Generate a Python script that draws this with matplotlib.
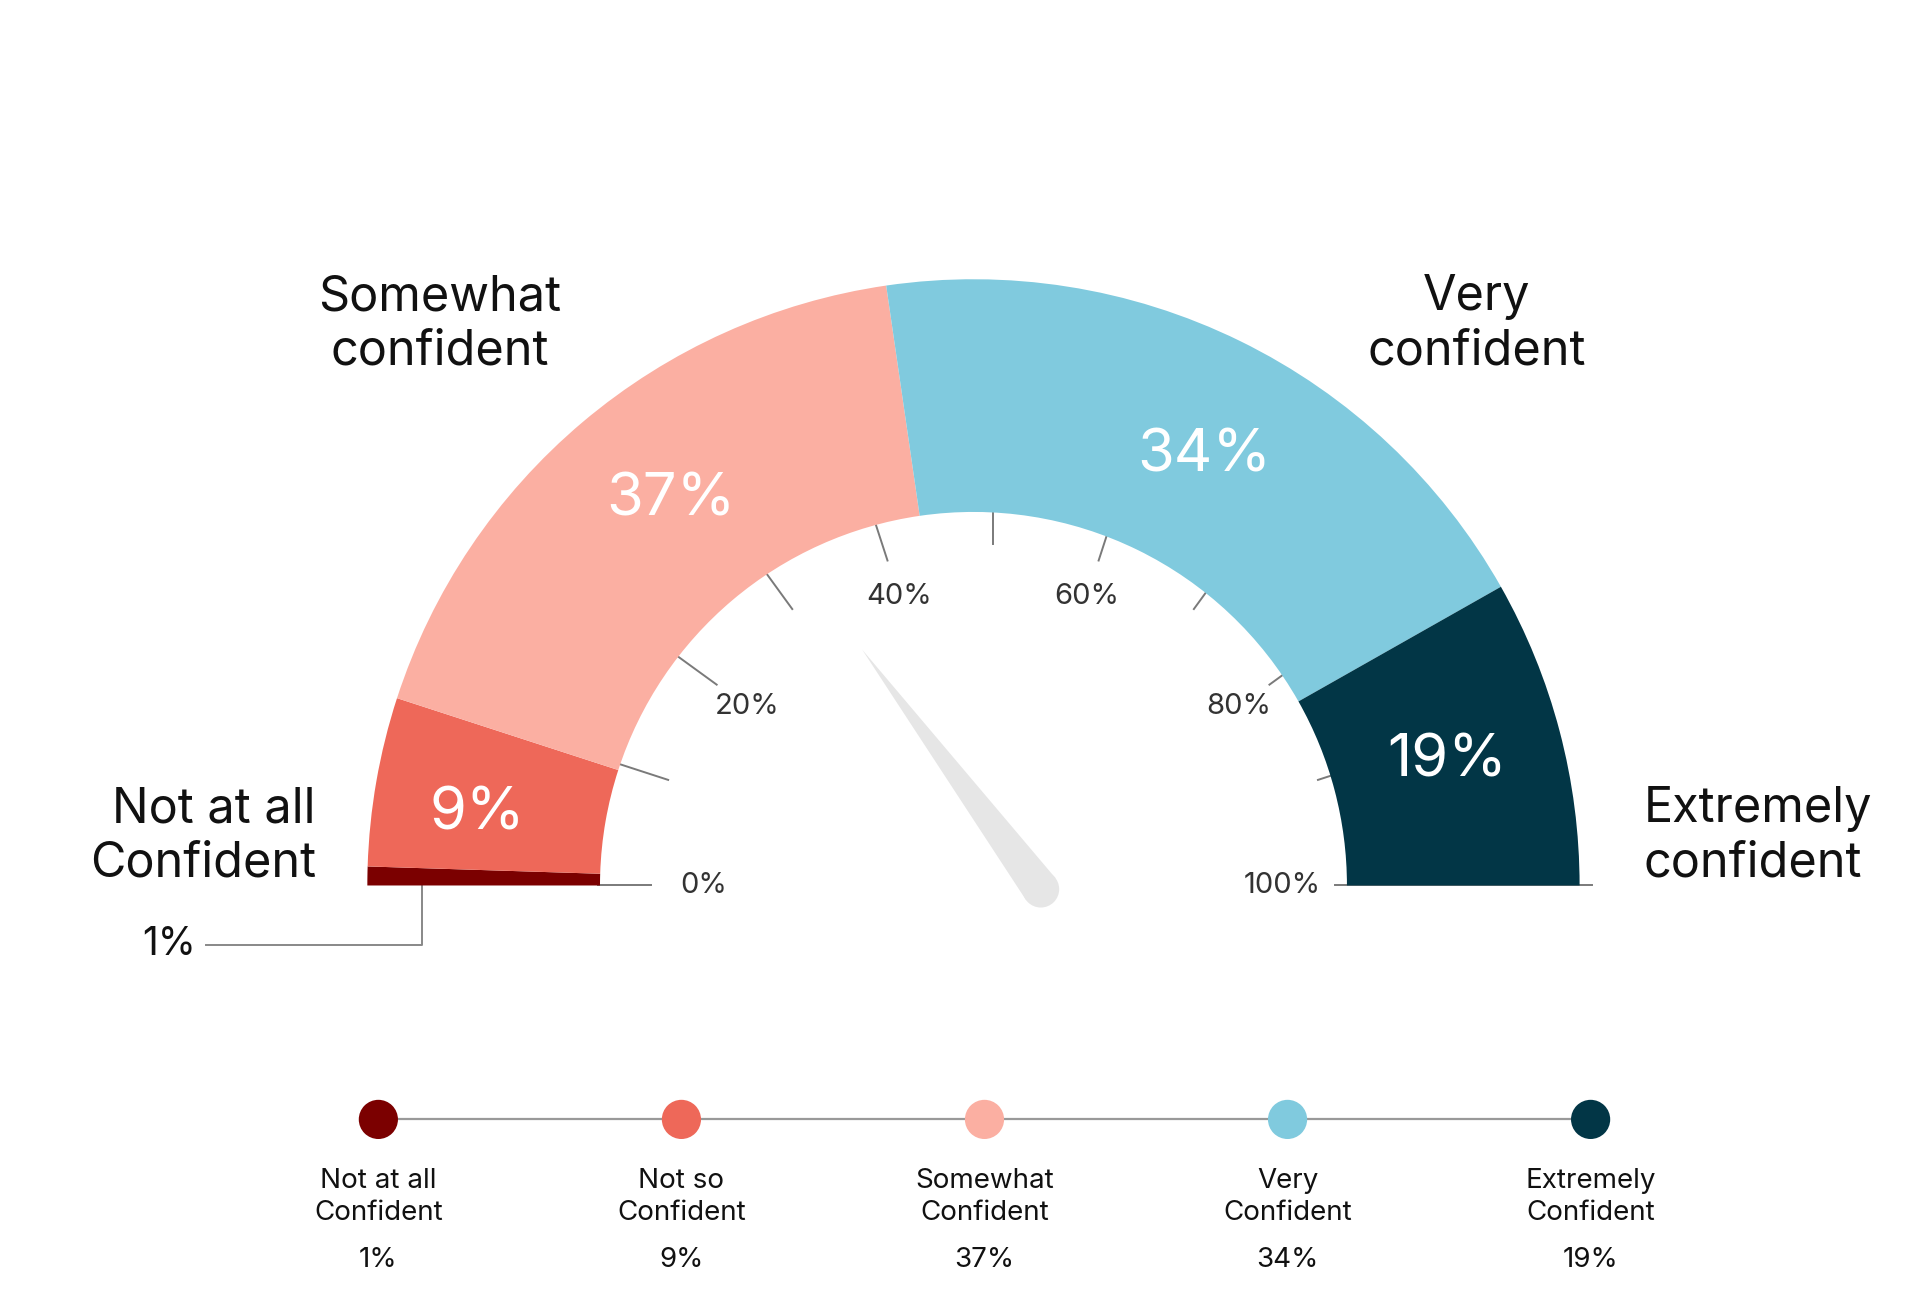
import numpy as np
import matplotlib.pyplot as plt
from matplotlib.patches import Wedge, Circle, Polygon

# data
categories = ["Not at all\nConfident", "Not so\nConfident", "Somewhat\nConfident",
              "Very\nConfident", "Extremely\nConfident"]
values = [1, 9, 37, 34, 19]
# angular share of each arc as drawn in the gauge (%)
arc_share = [1, 9, 35.4, 38.2, 16.4]
gauge_labels = ["Not at all\nConfident", "", "Somewhat\nconfident",
                "Very\nconfident", "Extremely\nconfident"]
tick_values = list(range(0, 101, 10))
tick_labels = {0: "0%", 20: "20%", 40: "40%", 60: "60%", 80: "80%", 100: "100%"}
needle_value = 29.6

colors = ["#7B0000", "#EE6859", "#FBAFA2", "#80CADE", "#023646"]
# small angular nudges (deg) and radii for the in-arc value labels
label_nudge = [0, 1.2, -2.4, -1.9, 0.5]
label_r = [400, 410, 403, 402, 401]

FONT = ["Inter", "DejaVu Sans"]
W, H = 1568, 1059


def yy(v):
    """convert top-down pixel row to axes y"""
    return H - v


def ang(pct):
    return 180.0 - 1.8 * pct


fig = plt.figure(figsize=(19.2, 12.97), dpi=100)
ax = fig.add_axes([0, 0, 1, 1])
ax.set_xlim(0, W)
ax.set_ylim(0, H)
ax.axis("off")

# gauge arcs
cx, cy = 795, yy(723)
r_out, r_in = 495, 305
start = 0.0
for i, (share, col, val) in enumerate(zip(arc_share, colors, values)):
    a1, a0 = ang(start), ang(start + share)
    ax.add_patch(Wedge((cx, cy), r_out, a0, a1, width=r_out - r_in,
                       facecolor=col, edgecolor="none", zorder=2))
    if val > 1:
        mid = np.radians((a0 + a1) / 2 + label_nudge[i])
        rr = label_r[i]
        ax.text(cx + rr * np.cos(mid), cy + rr * np.sin(mid) - 4, f"{val}%",
                color="white", fontsize=43, ha="center", va="center",
                family=FONT, zorder=3)
    start += share

# ticks and scale labels
tx, ty = 811, yy(723)
for t in tick_values:
    a = np.radians(ang(t))
    r1 = 489 if t == 100 else 323
    ax.plot([tx + 279 * np.cos(a), tx + r1 * np.cos(a)],
            [ty + 279 * np.sin(a), ty + r1 * np.sin(a)],
            color="#7a7a7a", lw=1.4, zorder=1)
    if t in tick_labels:
        rl = 236 if t in (0, 100) else 248
        ax.text(tx + rl * np.cos(a), ty + rl * np.sin(a), tick_labels[t],
                color="#333333", fontsize=21, ha="center", va="center",
                family=FONT, zorder=3)

# needle
px, py = 850, yy(726)
na = np.radians(ang(needle_value))
nlen, nr = 244, 15
tip = (px + nlen * np.cos(na), py + nlen * np.sin(na))
nx, ny = -np.sin(na), np.cos(na)
ax.add_patch(Polygon([tip, (px + nr * nx, py + nr * ny), (px - nr * nx, py - nr * ny)],
                     closed=True, facecolor="#E6E6E6", edgecolor="none", zorder=2))
ax.add_patch(Circle((px, py), nr, facecolor="#E6E6E6", edgecolor="none", zorder=2))

# category labels around the gauge
lab_kw = dict(fontsize=35, color="#111111", family=FONT, linespacing=1.24, va="center")
ax.text(359, yy(265), gauge_labels[2], ha="center", **lab_kw)
ax.text(1206, yy(265), gauge_labels[3], ha="center", **lab_kw)
ax.text(258, yy(683), gauge_labels[0], ha="right", **lab_kw)
ax.text(1342, yy(683), gauge_labels[4], ha="left", **lab_kw)

# 1% callout
ax.plot([345, 345, 168], [yy(723), yy(772), yy(772)], color="#888888", lw=1.4, zorder=1)
ax.text(160, yy(771), f"{values[0]}%", fontsize=28, ha="right", va="center",
        color="#111111", family=FONT)

# legend strip
lx = np.linspace(309, 1299, len(categories))
ax.plot([lx[0], lx[-1]], [yy(914), yy(914)], color="#999999", lw=1.6, zorder=1)
for x, col, name, val in zip(lx, colors, categories, values):
    ax.add_patch(Circle((x, yy(914)), 16, facecolor=col, edgecolor="none", zorder=2))
    ax.text(x, yy(977), name, ha="center", va="center", fontsize=20,
            linespacing=1.3, color="#111111", family=FONT)
    ax.text(x, yy(1029), f"{val}%", ha="center", va="center", fontsize=20,
            color="#111111", family=FONT)

fig.savefig("out.png", dpi=100, facecolor="white")
